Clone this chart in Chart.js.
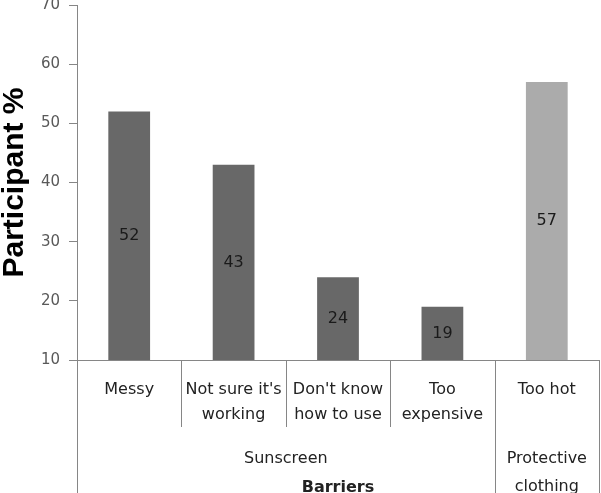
<!DOCTYPE html>
<html>
<head>
<meta charset="utf-8">
<script src="https://cdn.jsdelivr.net/npm/chart.js@4/dist/chart.umd.min.js"></script>
<style>
  body { margin: 0; background: #fff; }
  canvas { display: block; }
</style>
</head>
<body>
<canvas id="barChart" width="601" height="493"></canvas>
<script>
// Data
const categories = [
  ['Messy'],
  ["Not sure it's", 'working'],
  ["Don't know", 'how to use'],
  ['Too', 'expensive'],
  ['Too hot']
];
const values = [52, 43, 24, 19, 57];
const barColors = ['#686868', '#686868', '#686868', '#686868', '#ababab'];
const groupLabels = [['Sunscreen'], ['Protective', 'clothing']];
const groupSizes = [4, 1];
const axisTitle = 'Barriers';
const yTicks = [10, 20, 30, 40, 50, 60, 70];

const lineColor = '#868686';
const font = '"DejaVu Sans", sans-serif';

// Draw value labels in the middle of the visible part of each bar
const barLabels = {
  id: 'barLabels',
  afterDatasetsDraw(chart) {
    const ctx = chart.ctx;
    const meta = chart.getDatasetMeta(0);
    const floor = chart.chartArea.bottom;
    ctx.save();
    ctx.font = '16px ' + font;
    ctx.fillStyle = '#1a1a1a';
    ctx.textAlign = 'center';
    ctx.textBaseline = 'middle';
    meta.data.forEach((bar, i) => {
      const base = Math.min(bar.base, floor);
      ctx.fillText(values[i], bar.x, (bar.y + base) / 2);
    });
    ctx.restore();
  }
};

// Two level category axis under the plot
const groupAxis = {
  id: 'groupAxis',
  afterDraw(chart) {
    const ctx = chart.ctx;
    const area = chart.chartArea;
    const xs = chart.scales.x;
    const half = (xs.getPixelForValue(1) - xs.getPixelForValue(0)) / 2;
    const bottom = chart.height;
    const edge = i => xs.getPixelForValue(i) - half;

    ctx.save();
    ctx.strokeStyle = lineColor;
    ctx.lineWidth = 1;

    // axis line
    ctx.beginPath();
    ctx.moveTo(area.left, Math.round(area.bottom) + 0.5);
    ctx.lineTo(area.right, Math.round(area.bottom) + 0.5);
    ctx.stroke();

    // group edges (full height) and inner dividers
    let start = 0;
    const groupEdges = [0];
    groupSizes.forEach(n => { start += n; groupEdges.push(start); });
    for (let i = 1; i <= categories.length; i++) {
      const x = Math.round(edge(i)) + 0.5;
      const isGroupEdge = groupEdges.includes(i);
      ctx.beginPath();
      ctx.moveTo(x, area.bottom);
      ctx.lineTo(x, isGroupEdge ? bottom : area.bottom + 67);
      ctx.stroke();
    }
    // y axis line carried down to the bottom
    ctx.beginPath();
    ctx.moveTo(Math.round(area.left) + 0.5, area.bottom);
    ctx.lineTo(Math.round(area.left) + 0.5, bottom);
    ctx.stroke();

    // category labels
    ctx.font = '16px ' + font;
    ctx.fillStyle = '#222';
    ctx.textAlign = 'center';
    ctx.textBaseline = 'middle';
    categories.forEach((lines, i) => {
      const x = xs.getPixelForValue(i);
      lines.forEach((t, j) => ctx.fillText(t, x, area.bottom + 30 + j * 25));
    });

    // group labels
    groupLabels.forEach((lines, g) => {
      const x = (edge(groupEdges[g]) + edge(groupEdges[g + 1])) / 2;
      lines.forEach((t, j) => ctx.fillText(t, x, area.bottom + 99 + j * 28));
    });

    // axis title
    ctx.font = 'bold 16px ' + font;
    ctx.fillText(axisTitle, (area.left + area.right) / 2, area.bottom + 128);
    ctx.restore();
  }
};

new Chart(document.getElementById('barChart'), {
  type: 'bar',
  data: {
    labels: categories,
    datasets: [{
      data: values,
      backgroundColor: barColors,
      barPercentage: 0.8,
      categoryPercentage: 0.5
    }]
  },
  options: {
    responsive: false,
    animation: false,
    layout: { padding: { top: 5, bottom: 133, right: 2, left: 0 } },
    plugins: {
      legend: { display: false },
      tooltip: { enabled: false }
    },
    scales: {
      x: {
        display: false
      },
      y: {
        min: 10,
        max: 70,
        afterBuildTicks(scale) {
          scale.ticks = yTicks.map(v => ({ value: v }));
        },
        afterFit(scale) {
          scale.width = 77;
          scale.paddingTop = 0;
          scale.paddingBottom = 0;
        },
        grid: {
          drawOnChartArea: false,
          tickLength: 8,
          color: lineColor
        },
        border: { color: lineColor },
        ticks: {
          padding: 9,
          color: '#595959',
          font: { family: font, size: 15 }
        },
        title: {
          display: true,
          text: 'Participant %',
          color: '#000',
          padding: { top: 0, bottom: 0 },
          font: { family: '"Liberation Sans", Arial, sans-serif', size: 30, weight: 'bold', lineHeight: 1 }
        }
      }
    }
  },
  plugins: [barLabels, groupAxis]
});
</script>
</body>
</html>
